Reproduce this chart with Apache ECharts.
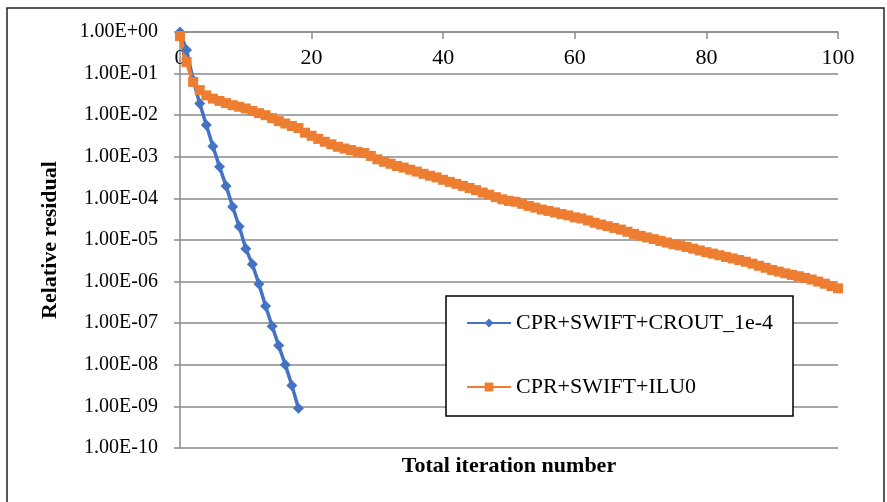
<!DOCTYPE html>
<html>
<head>
<meta charset="utf-8">
<script src="https://cdn.jsdelivr.net/npm/echarts@6/dist/echarts.min.js"></script>
<style>
  html, body { margin: 0; padding: 0; background: #fff; }
  #chart { width: 887px; height: 502px; }
</style>
</head>
<body>
<div id="chart"></div>
<script>
// residual history per iteration (x = iteration index)
const croutResidual = [
  1.0, 0.37, 0.07, 0.019, 5.8e-3, 1.8e-3, 5.8e-4, 2.0e-4, 6.3e-5, 2.1e-5,
  6.2e-6, 2.6e-6, 8.7e-7, 2.6e-7, 8.5e-8, 2.9e-8, 1.0e-8, 3.2e-9, 9.0e-10
]
const iluResidual = [
  0.8, 0.19, 0.063, 0.04, 0.03, 0.025, 0.022, 0.0195, 0.0174, 0.016,
  0.0145, 0.0126, 0.0112, 0.010, 0.0085, 0.0072, 0.0063, 0.0055, 0.0049, 0.0038,
  0.0032, 0.0027, 0.0023, 0.0020, 1.74e-3, 1.58e-3, 1.45e-3, 1.32e-3, 1.23e-3, 1.05e-3,
  8.7e-4, 7.6e-4, 6.8e-4, 6.0e-4, 5.5e-4, 4.9e-4, 4.4e-4, 3.9e-4, 3.5e-4, 3.2e-4,
  2.8e-4, 2.5e-4, 2.24e-4, 2.0e-4, 1.78e-4, 1.58e-4, 1.38e-4, 1.23e-4, 1.07e-4, 9.5e-5,
  8.7e-5, 8.3e-5, 7.4e-5, 6.6e-5, 6.0e-5, 5.4e-5, 5.0e-5, 4.6e-5, 4.2e-5, 3.9e-5,
  3.5e-5, 3.3e-5, 2.95e-5, 2.6e-5, 2.35e-5, 2.15e-5, 1.95e-5, 1.78e-5, 1.58e-5, 1.4e-5,
  1.26e-5, 1.15e-5, 1.05e-5, 9.5e-6, 8.7e-6, 7.9e-6, 7.4e-6, 6.8e-6, 6.2e-6, 5.6e-6,
  5.1e-6, 4.7e-6, 4.3e-6, 3.9e-6, 3.6e-6, 3.3e-6, 3.0e-6, 2.7e-6, 2.4e-6, 2.15e-6,
  1.9e-6, 1.74e-6, 1.58e-6, 1.45e-6, 1.35e-6, 1.23e-6, 1.12e-6, 1.0e-6, 8.9e-7, 7.8e-7,
  6.9e-7
]
const seriesNames = ['CPR+SWIFT+CROUT_1e-4', 'CPR+SWIFT+ILU0']
// y tick labels, from 1e-10 up to 1e0
const yTickLabels = [
  '1.00E-10', '1.00E-09', '1.00E-08', '1.00E-07', '1.00E-06', '1.00E-05',
  '1.00E-04', '1.00E-03', '1.00E-02', '1.00E-01', '1.00E+00'
]
const xTickLabels = ['0', '20', '40', '60', '80', '100']

const serif = "'Times New Roman', 'Liberation Serif', serif"
const gridGray = '#8a8a8a'

const chart = echarts.init(document.getElementById('chart'), null, { renderer: 'canvas' })

const option = {
  animation: false,
  backgroundColor: '#fff',
  grid: { left: 180, right: 49, top: 32, bottom: 54 },
  xAxis: {
    type: 'value',
    position: 'top',
    min: 0,
    max: 100,
    interval: 20,
    axisLine: { show: true, lineStyle: { color: gridGray, width: 1.5 } },
    axisTick: { show: true, inside: true, length: 7, lineStyle: { color: gridGray, width: 1.5 } },
    axisLabel: {
      inside: true,
      margin: 15,
      fontFamily: serif,
      fontSize: 22,
      color: '#000',
      formatter: (v) => xTickLabels[Math.round(v / 20)]
    },
    splitLine: { show: false }
  },
  yAxis: {
    type: 'log',
    logBase: 10,
    min: 1e-10,
    max: 1,
    interval: 1,
    axisLine: { show: true, onZero: false, lineStyle: { color: gridGray, width: 1.5 } },
    axisTick: { show: true, length: 6, lineStyle: { color: gridGray, width: 1.5 } },
    axisLabel: {
      margin: 22,
      fontFamily: serif,
      fontSize: 20,
      color: '#000',
      formatter: (v) => yTickLabels[Math.round(Math.log10(v)) + 10]
    },
    splitLine: { show: true, lineStyle: { color: gridGray, width: 1.5 } }
  },
  legend: {
    orient: 'vertical',
    left: 466,
    top: 312,
    z: 10,
    itemWidth: 44,
    itemHeight: 11,
    itemGap: 42,
    padding: 0,
    textStyle: { fontFamily: serif, fontSize: 22, color: '#000' },
    data: seriesNames
  },
  graphic: [
    {
      type: 'rect',
      z: 5,
      shape: { x: 7, y: 8, width: 877, height: 520 },
      style: { fill: 'none', stroke: '#222', lineWidth: 1.5 }
    },
    {
      type: 'rect',
      z: 5,
      shape: { x: 446, y: 296, width: 347, height: 120 },
      style: { fill: '#fff', stroke: '#000', lineWidth: 1.5 }
    },
    {
      type: 'text',
      x: 509,
      y: 466,
      style: {
        text: 'Total iteration number',
        fontFamily: serif,
        fontSize: 22,
        fontWeight: 'bold',
        fill: '#000',
        align: 'center',
        verticalAlign: 'middle'
      }
    },
    {
      type: 'text',
      x: 50,
      y: 240,
      rotation: Math.PI / 2,
      style: {
        text: 'Relative residual',
        fontFamily: serif,
        fontSize: 22,
        fontWeight: 'bold',
        fill: '#000',
        align: 'center',
        verticalAlign: 'middle'
      }
    }
  ],
  series: [
    {
      name: seriesNames[0],
      type: 'line',
      data: croutResidual.map((v, i) => [i, v]),
      symbol: 'diamond',
      symbolSize: 11,
      itemStyle: { color: '#4472C4' },
      lineStyle: { color: '#4472C4', width: 3.5 }
    },
    {
      name: seriesNames[1],
      type: 'line',
      data: iluResidual.map((v, i) => [i, v]),
      symbol: 'rect',
      symbolSize: 10,
      itemStyle: { color: '#ED7D31' },
      lineStyle: { color: '#ED7D31', width: 4 }
    }
  ]
}

chart.setOption(option)
</script>
</body>
</html>
